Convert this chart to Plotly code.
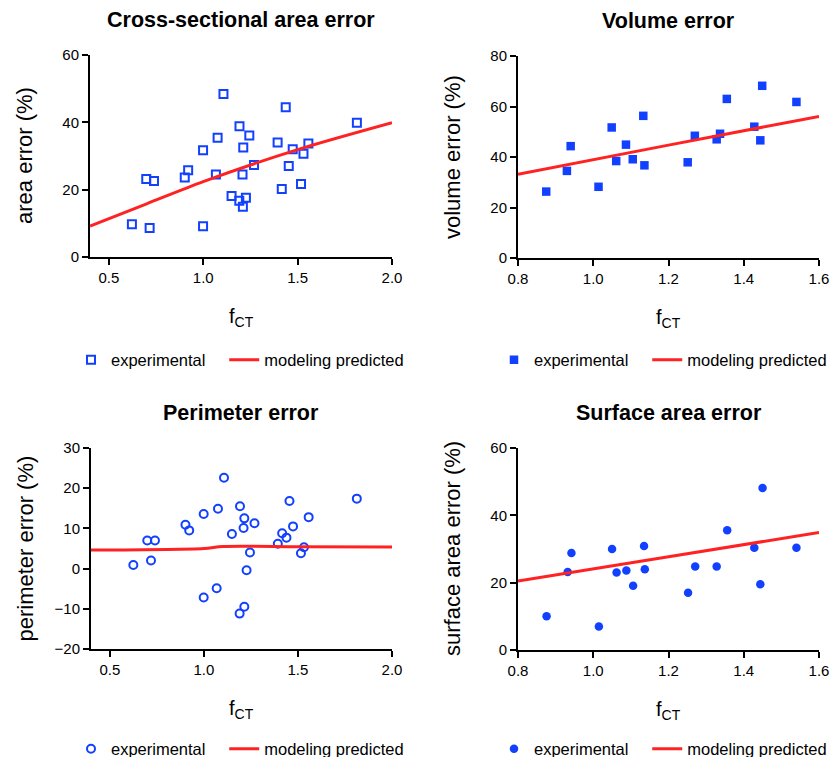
import plotly.graph_objects as go

W, H = 835, 757

# ---------------- data ----------------
area_x = [0.622, 0.698, 0.739, 0.716, 0.902, 0.920, 0.999, 0.999, 1.067, 1.076,
          1.107, 1.150, 1.191, 1.192, 1.212, 1.208, 1.210, 1.226, 1.244, 1.269,
          1.394, 1.416, 1.437, 1.453, 1.474, 1.518, 1.531, 1.557, 1.814]
area_y = [9.7, 23.2, 22.6, 8.6, 23.6, 25.8, 31.7, 9.1, 24.5, 35.4,
          48.4, 18.1, 16.7, 38.8, 32.5, 24.5, 14.9, 17.6, 36.1, 27.3,
          34.0, 20.2, 44.5, 27.0, 32.0, 21.7, 30.7, 33.7, 39.9]
area_model_x = [0.4, 0.7, 1.0, 1.5, 2.0]
area_model_y = [9.2, 15.8, 22.4, 31.9, 39.9]

vol_x = [0.875, 0.930, 0.940, 1.014, 1.049, 1.061, 1.087, 1.105, 1.133, 1.136,
         1.251, 1.270, 1.328, 1.337, 1.355, 1.428, 1.444, 1.449, 1.540]
vol_y = [26.3, 34.5, 44.3, 28.2, 51.7, 38.4, 44.9, 39.1, 56.3, 36.7,
         37.9, 48.4, 47.0, 49.2, 63.0, 52.0, 46.6, 68.2, 61.8]
vol_model_x = [0.8, 1.2, 1.6]
vol_model_y = [33.2, 44.7, 56.1]

per_x = [0.625, 0.699, 0.740, 0.719, 0.902, 0.922, 0.999, 0.999, 1.068, 1.075,
         1.107, 1.149, 1.192, 1.190, 1.215, 1.211, 1.215, 1.227, 1.245, 1.269,
         1.393, 1.416, 1.439, 1.455, 1.474, 1.516, 1.532, 1.557, 1.813]
per_y = [0.9, 7.0, 7.0, 2.0, 10.9, 9.5, 13.6, -7.2, -4.9, 14.9,
         22.6, 8.6, 15.5, -11.2, 12.5, 10.1, -9.5, -0.4, 4.0, 11.3,
         6.2, 8.8, 7.7, 16.8, 10.5, 3.8, 5.3, 12.8, 17.4]
per_model_x = [0.4, 1.0, 1.1, 1.5, 2.0]
per_model_y = [4.6, 5.0, 5.5, 5.45, 5.4]

surf_x = [0.876, 0.932, 0.942, 1.015, 1.050, 1.062, 1.088, 1.106, 1.135, 1.137,
          1.252, 1.271, 1.328, 1.356, 1.428, 1.444, 1.450, 1.540]
surf_y = [10.0, 23.2, 28.8, 7.0, 30.0, 23.0, 23.6, 19.1, 30.9, 24.0,
          17.0, 24.8, 24.8, 35.6, 30.4, 19.5, 48.1, 30.4]
surf_model_x = [0.8, 1.2, 1.6]
surf_model_y = [20.5, 27.7, 34.9]

titles = ["Cross-sectional area error", "Volume error", "Perimeter error", "Surface area error"]
ytitles = ["area error (%)", "volume error (%)", "perimeter error (%)", "surface area error (%)"]
xtitle = "f<sub>CT</sub>"
legend_names = ["experimental", "modeling predicted"]

BLUE = "#1240ff"
RED = "#ff2222"
FONT = "Liberation Sans, Arial, Helvetica, sans-serif"
NBSP = "\u00a0"


def px(x):
    return x / W


def py(y):
    return 1 - y / H


# plot area boxes in pixels: (left, right, top, bottom)
boxes = [(90, 392, 55, 257), (518, 819, 56, 258), (91, 392, 448, 649), (518, 819, 448, 650)]
xranges = [[0.4, 2.0], [0.8, 1.6], [0.4, 2.0], [0.8, 1.6]]
yranges = [[0, 60], [0, 80], [-20, 30], [0, 60]]
xdticks = [0.5, 0.2, 0.5, 0.2]
xtick0 = [0.5, 0.8, 0.5, 0.8]
ydticks = [20, 20, 10, 20]

panels = [
    (area_x, area_y, area_model_x, area_model_y, "square-open"),
    (vol_x, vol_y, vol_model_x, vol_model_y, "square"),
    (per_x, per_y, per_model_x, per_model_y, "circle-open"),
    (surf_x, surf_y, surf_model_x, surf_model_y, "circle"),
]

fig = go.Figure()
layout = dict(
    width=W, height=H,
    margin=dict(l=0, r=0, t=0, b=0, autoexpand=False),
    paper_bgcolor="white", plot_bgcolor="white",
    font=dict(family=FONT, color="black"),
    showlegend=True,
)

annotations = []
legend_pos = [(93, 360), (516, 360), (93, 749), (516, 749)]

for i, (xs, ys, mx, my, sym) in enumerate(panels):
    k = "" if i == 0 else str(i + 1)
    lg = "legend" if i == 0 else "legend" + str(i + 1)
    open_sym = "open" in sym
    fig.add_trace(go.Scatter(
        x=xs, y=ys, mode="markers", name=legend_names[0] + NBSP * 3,
        xaxis="x" + k, yaxis="y" + k, legend=lg,
        marker=dict(symbol=sym, size=8 if open_sym else 8.5, color=BLUE,
                    line=dict(color=BLUE, width=2 if open_sym else 0)),
        cliponaxis=False,
    ))
    fig.add_trace(go.Scatter(
        x=mx, y=my, mode="lines", name=legend_names[1],
        xaxis="x" + k, yaxis="y" + k, legend=lg,
        line=dict(color=RED, width=3, shape="spline", smoothing=0.8),
    ))
    l, r, t, b = boxes[i]
    axis_common = dict(showline=True, linecolor="black", linewidth=2,
                       ticks="outside", ticklen=6, tickwidth=2, tickcolor="black",
                       showgrid=False, zeroline=False,
                       tickfont=dict(size=15, color="black", family=FONT))
    layout["xaxis" + k] = dict(axis_common, domain=[px(l), px(r)], range=xranges[i],
                               anchor="y" + k, tick0=xtick0[i], dtick=xdticks[i],
                               tickformat=".1f")
    layout["yaxis" + k] = dict(axis_common, domain=[py(b), py(t)], range=yranges[i],
                               anchor="x" + k, dtick=ydticks[i])
    cx = (l + r) / 2
    cy = (t + b) / 2
    annotations.append(dict(text="<b>" + titles[i] + "</b>", x=px(cx), y=py(t - 35),
                            xref="paper", yref="paper", showarrow=False,
                            xanchor="center", yanchor="middle",
                            font=dict(size=21.5, family=FONT, color="black")))
    annotations.append(dict(text=ytitles[i], x=px(l - 66), y=py(cy),
                            xref="paper", yref="paper", showarrow=False, textangle=-90,
                            xanchor="center", yanchor="middle",
                            font=dict(size=22, family=FONT, color="black")))
    annotations.append(dict(text=xtitle, x=px(cx), y=py(b + 60),
                            xref="paper", yref="paper", showarrow=False,
                            xanchor="center", yanchor="middle",
                            font=dict(size=20, family=FONT, color="black")))
    lx, ly = legend_pos[i]
    layout[lg] = dict(orientation="h", x=px(lx - 22), y=py(ly), xanchor="left",
                      yanchor="middle", bgcolor="rgba(0,0,0,0)",
                      font=dict(size=16.5, family=FONT, color="black"))

layout["annotations"] = annotations
fig.update_layout(**layout)
fig.write_html("out.html", config={"displayModeBar": False},
               post_script="document.body.style.margin='0px';")
